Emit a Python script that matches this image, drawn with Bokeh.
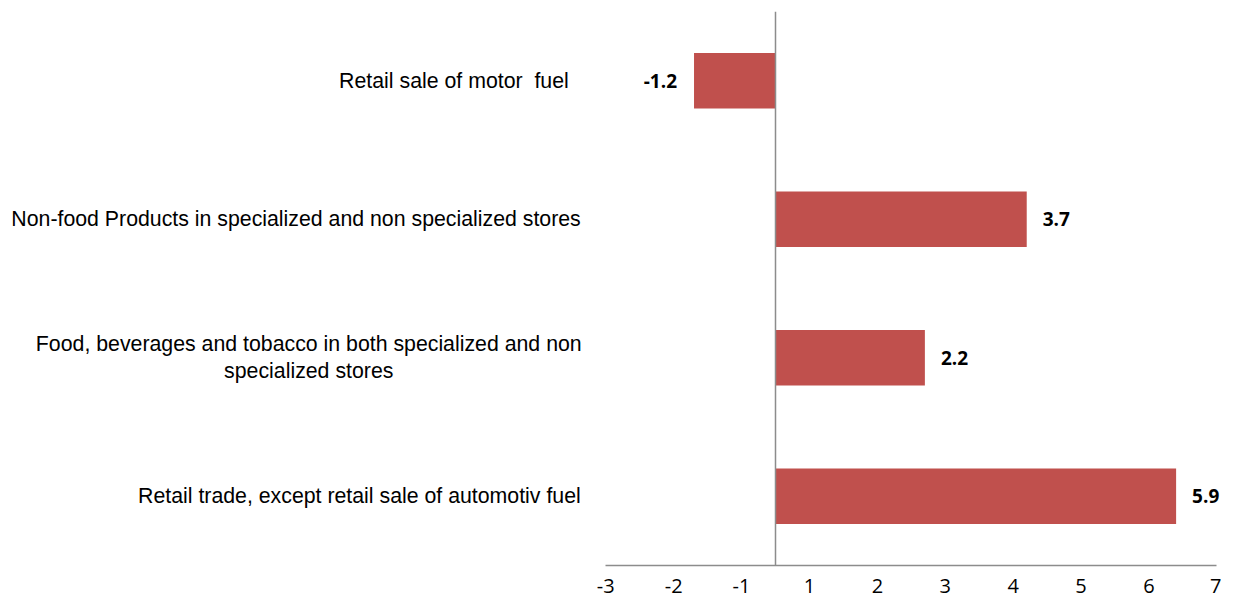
from bokeh.plotting import figure
from bokeh.models import FactorRange, Range1d, FixedTicker, Span, ColumnDataSource
from bokeh.core.properties import value
from bokeh.embed import file_html
from bokeh.resources import INLINE

# ---- data (top to bottom as in the reference) ----
categories = [
    "Retail sale of motor  fuel",
    "Non-food Products in specialized and non specialized stores",
    "Food, beverages and tobacco in both specialized and non specialized stores",
    "Retail trade, except retail sale of automotiv fuel",
]
display_labels = [
    "Retail sale of motor\u00a0 fuel",
    "Non-food Products in specialized and non specialized stores",
    "Food, beverages and tobacco in both specialized and non\nspecialized stores",
    "Retail trade, except retail sale of automotiv fuel",
]
values = [-1.2, 3.7, 2.2, 5.9]
tick_labels = ["-3", "-2", "-1", "1", "2", "3", "4", "5", "6", "7"]

BAR = "#C0504D"
AXIS = "#8C8C8C"

W, H = 1221, 598
PX_PER_UNIT = 67.9      # horizontal scale (layout)
ZERO_PX = 775.0         # where the value 0 sits on the canvas (layout)

factors = list(reversed(categories))
x_lo, x_hi = -2.5, 6.5            # extent of the value axis
tick_pos = [x_lo + i for i in range(len(tick_labels))]

# frame spans the full width so that category labels and value labels are not clipped
x_start = -ZERO_PX / PX_PER_UNIT
x_end = (W - ZERO_PX) / PX_PER_UNIT

p = figure(
    width=W, height=H,
    y_range=FactorRange(factors=factors, range_padding=0),
    x_range=Range1d(x_start, x_end),
    output_backend="svg", toolbar_location=None,
    min_border_left=0, min_border_right=0, min_border_top=11, min_border_bottom=33,
)
p.outline_line_color = None
p.xgrid.visible = False
p.ygrid.visible = False
p.background_fill_color = "white"
p.border_fill_color = "white"
p.yaxis.visible = False

src = ColumnDataSource(dict(
    cat=categories,
    val=values,
    lab=[f"{v:.1f}" for v in values],
    align=["right" if v < 0 else "left" for v in values],
    off=[-17 if v < 0 else 16 for v in values],
))

p.hbar(y="cat", left=0, right="val", height=0.40, source=src,
       fill_color=BAR, line_color=None)

p.text(x="val", y="cat", text="lab", source=src, text_align="align",
       x_offset="off", text_baseline="middle",
       text_font=value("Open Sans"), text_font_style="bold",
       text_font_size="19px", text_color="black")

# vertical axis line at zero
p.add_layout(Span(location=0, dimension="height", line_color=AXIS, line_width=1.5))

# category labels left of the value axis
cat_src = ColumnDataSource(dict(
    cat=categories,
    lab=display_labels,
    x=[x_lo] * len(categories),
    align=["center" if "\n" in l else "right" for l in display_labels],
    off=[-297 if "\n" in l else (-37 if "motor" in l else -25) for l in display_labels],
))
p.text(x="x", y="cat", text="lab", source=cat_src, text_align="align",
       x_offset="off", text_baseline="middle", text_line_height=1.12,
       text_font=value("Liberation Sans"), text_font_size="21.3px", text_color="black")

# x axis
xa = p.xaxis[0]
xa.bounds = (x_lo, x_hi)
xa.ticker = FixedTicker(ticks=tick_pos)
xa.major_label_overrides = {t: l for t, l in zip(tick_pos, tick_labels)}
xa.axis_line_color = AXIS
xa.axis_line_width = 1.5
xa.major_tick_line_color = None
xa.minor_tick_line_color = None
xa.major_tick_out = 0
xa.major_tick_in = 0
xa.major_label_standoff = 13
xa.major_label_text_font = "Open Sans"
xa.major_label_text_font_size = "20px"
xa.major_label_text_color = "black"

open("out.html", "w").write(file_html(p, INLINE))
